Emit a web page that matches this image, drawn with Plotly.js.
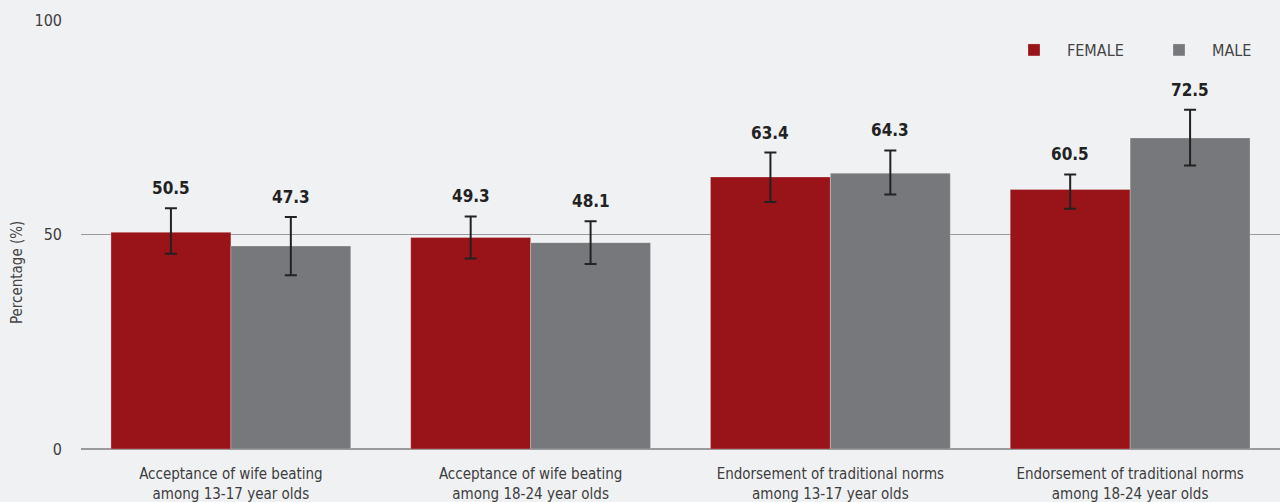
<!DOCTYPE html>
<html>
<head>
<meta charset="utf-8">
<script src="https://cdn.plot.ly/plotly-3.0.1.min.js"></script>
<style>
  html, body { margin: 0; padding: 0; background: #f0f1f3; }
  #chart { width: 1280px; height: 502px; }
</style>
</head>
<body>
<div id="chart"></div>
<script>
const categories = [
  "Acceptance of wife beating<br>among 13-17 year olds",
  "Acceptance of wife beating<br>among 18-24 year olds",
  "Endorsement of traditional norms<br>among 13-17 year olds",
  "Endorsement of traditional norms<br>among 18-24 year olds"
];
const femaleValues = [50.5, 49.3, 63.4, 60.5];
const maleValues = [47.3, 48.1, 64.3, 72.5];
const femaleErrPlus = [5.6, 4.9, 5.7, 3.5];
const femaleErrMinus = [5.0, 4.9, 5.8, 4.5];
const maleErrPlus = [6.8, 5.0, 5.3, 6.6];
const maleErrMinus = [6.8, 5.0, 5.0, 6.4];
const yTicks = [0, 50, 100];

const FONT = '"DejaVu Sans Condensed", "Roboto", sans-serif';

const errStyle = { type: 'data', symmetric: false, color: '#222222', thickness: 2, width: 6 };

const traces = [
  {
    type: 'bar', name: 'FEMALE', x: categories, y: femaleValues,
    marker: { color: '#981419', line: { color: 'rgba(255,255,255,0.25)', width: 1 } },
    error_y: Object.assign({ array: femaleErrPlus, arrayminus: femaleErrMinus }, errStyle),
    hoverinfo: 'y'
  },
  {
    type: 'bar', name: 'MALE', x: categories, y: maleValues,
    marker: { color: '#77787b', line: { color: 'rgba(255,255,255,0.25)', width: 1 } },
    error_y: Object.assign({ array: maleErrPlus, arrayminus: maleErrMinus }, errStyle),
    hoverinfo: 'y'
  }
];

const annotations = [];
categories.forEach((c, i) => {
  annotations.push({
    x: c, y: femaleValues[i] + femaleErrPlus[i], xref: 'x', yref: 'y',
    text: '<b>' + femaleValues[i].toFixed(1) + '</b>', showarrow: false,
    xshift: -60, yshift: 20, yanchor: 'middle',
    font: { family: FONT, size: 17, color: '#222222' }
  });
  annotations.push({
    x: c, y: maleValues[i] + maleErrPlus[i], xref: 'x', yref: 'y',
    text: '<b>' + maleValues[i].toFixed(1) + '</b>', showarrow: false,
    xshift: 60, yshift: 20, yanchor: 'middle',
    font: { family: FONT, size: 17, color: '#222222' }
  });
});
annotations.push({
  text: 'Percentage (%)', textangle: -90, showarrow: false,
  xref: 'paper', yref: 'paper', x: 0, y: 0.41, xshift: -64,
  xanchor: 'center', yanchor: 'middle',
  font: { family: FONT, size: 15, color: '#444444' }
});

const layout = {
  width: 1280, height: 502,
  margin: { l: 81, r: 0, t: 20, b: 53, autoexpand: false },
  paper_bgcolor: '#f0f1f3', plot_bgcolor: '#f0f1f3',
  barmode: 'group', bargap: 0.2, bargroupgap: 0,
  showlegend: true,
  legend: {
    orientation: 'h', x: 0.7673, xanchor: 'left', y: 0.93, yanchor: 'middle',
    font: { family: FONT, size: 16, color: '#444444' },
    bgcolor: 'rgba(0,0,0,0)', itemwidth: 56, traceorder: 'normal',
    entrywidth: 74, entrywidthmode: 'pixels'
  },
  xaxis: {
    type: 'category', showgrid: false, zeroline: false, showline: false,
    ticks: '', ticklabelstandoff: 14,
    tickfont: { family: FONT, size: 15, color: '#3d3d3d' }
  },
  yaxis: {
    range: [0, 100], tickvals: yTicks, ticktext: yTicks.map(String),
    showgrid: true, gridcolor: '#9a9a9c', gridwidth: 1.5,
    zeroline: true, zerolinecolor: '#9a9a9c', zerolinewidth: 1.5,
    showline: false, ticks: '', ticklabelstandoff: 18,
    tickfont: { family: FONT, size: 16, color: '#3d3d3d' }
  },
  annotations: annotations,
  font: { family: FONT }
};

Plotly.newPlot('chart', traces, layout, { displayModeBar: false, staticPlot: true });
</script>
</body>
</html>
